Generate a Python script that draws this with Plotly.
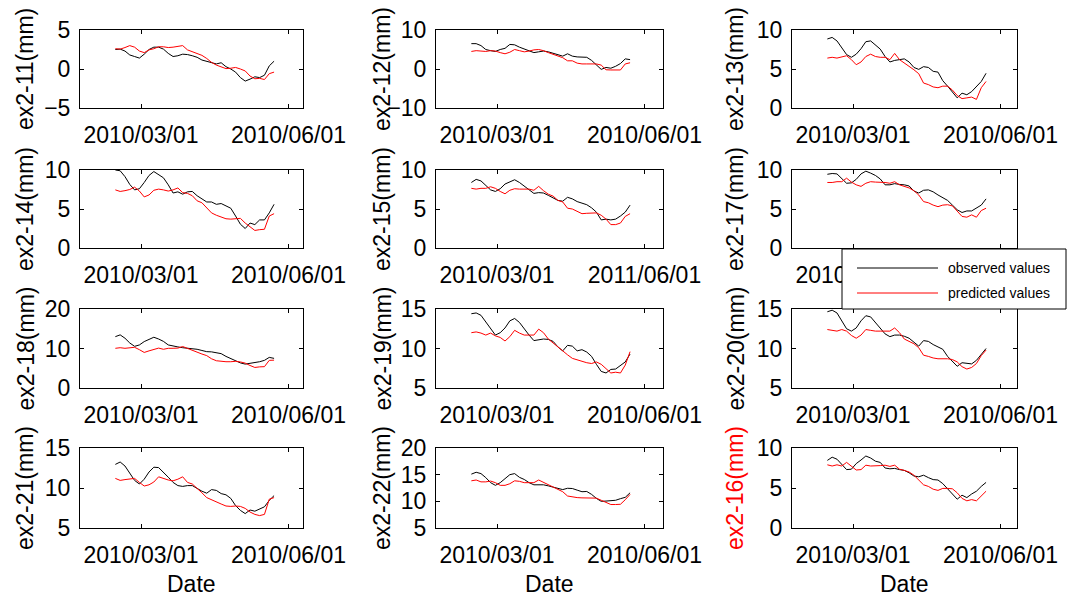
import pandas as pd
import plotly.graph_objects as go

# ---------------- data ----------------
dates = pd.date_range("2010-02-13", periods=34, freq="3D")

obs_11 = [2.5, 2.55, 2.3, 1.8, 1.6, 1.4, 1.9, 2.5, 2.8, 2.8, 2.55, 2.0, 1.6, 1.7, 1.9, 1.85, 1.7,
          1.5, 1.15, 0.95, 0.8, 0.65, 0.8, 0.3, 0.0, -0.4, -1.1, -1.55, -1.3, -1.0, -1.1, -0.8, 0.4, 1.0]
pred_11 = [2.6, 2.55, 2.75, 3.0, 2.8, 2.3, 2.1, 2.45, 2.6, 2.85, 2.85, 2.75, 2.8, 2.9, 3.0, 2.45, 2.2,
           2.0, 1.75, 1.35, 0.85, 0.5, 0.25, 0.05, 0.1, 0.2, 0.0, -0.25, -0.9, -1.25, -1.2, -1.35, -0.6, -0.4]

obs_12 = [6.5, 6.5, 6.0, 5.0, 4.7, 4.5, 5.0, 5.3, 6.3, 6.2, 5.6, 5.2, 4.7, 4.2, 4.4, 4.6, 4.4,
          4.0, 3.7, 3.3, 3.9, 3.3, 3.1, 3.0, 3.0, 2.2, 1.0, -0.1, 0.4, 0.2, 0.7, 1.4, 2.6, 2.4]
pred_12 = [4.5, 4.7, 4.6, 4.5, 4.7, 4.6, 4.2, 3.9, 4.3, 5.0, 4.7, 4.4, 4.6, 4.9, 5.0, 4.7, 4.2,
           3.8, 3.4, 2.9, 2.1, 2.1, 1.5, 1.3, 1.3, 1.3, 1.3, 1.0, -0.2, -0.25, -0.25, -0.25, 1.3, 1.6]

obs_13 = [8.85, 9.05, 8.6, 7.7, 6.85, 6.5, 6.9, 7.6, 8.5, 8.6, 8.1, 7.55, 6.6, 5.9, 6.1, 6.2, 6.3,
          5.9, 5.2, 4.95, 5.3, 5.2, 4.7, 4.6, 3.5, 2.8, 2.1, 1.3, 1.9, 1.7, 2.1, 2.7, 3.4, 4.45]
pred_13 = [6.4, 6.5, 6.4, 6.6, 6.7, 6.2, 5.55, 5.9, 6.6, 6.9, 6.6, 6.5, 6.5, 6.2, 7.0, 6.2, 5.8,
           5.3, 4.9, 4.4, 3.2, 3.0, 2.7, 2.6, 2.8, 2.8, 2.3, 1.6, 1.2, 1.3, 1.4, 1.1, 2.6, 3.4]

obs_14 = [10.0, 9.9, 9.15, 8.15, 7.45, 7.6, 8.4, 9.3, 9.8, 9.4, 9.0, 8.1, 7.05, 7.2, 6.9, 7.2, 7.25,
          6.7, 6.3, 5.9, 5.9, 5.6, 5.7, 5.35, 5.1, 4.1, 3.05, 2.5, 3.2, 3.0, 3.6, 3.6, 4.5, 5.6]
pred_14 = [7.45, 7.25, 7.35, 7.5, 7.8, 7.3, 6.55, 6.8, 7.4, 7.55, 7.45, 7.3, 7.45, 7.7, 7.1, 7.0, 6.7,
           6.05, 5.8, 5.2, 4.5, 4.2, 4.0, 3.75, 3.7, 3.75, 3.8, 3.2, 2.7, 2.25, 2.35, 2.4, 4.1, 4.4]

obs_15 = [8.4, 8.8, 8.6, 8.05, 7.45, 7.25, 7.6, 8.2, 8.5, 8.75, 8.4, 7.9, 7.4, 7.0, 7.1, 7.05, 6.75,
          6.45, 6.1, 6.0, 6.5, 6.3, 5.95, 5.75, 5.55, 5.15, 4.6, 3.6, 3.7, 3.6, 3.7, 4.1, 4.6, 5.5]
pred_15 = [7.65, 7.55, 7.65, 7.65, 7.85, 7.65, 7.25, 6.95, 7.4, 7.6, 7.55, 7.55, 7.55, 7.4, 7.9, 7.35, 6.9,
           6.65, 6.1, 5.9, 5.1, 5.0, 4.75, 4.4, 4.45, 4.5, 4.5, 4.2, 3.7, 3.0, 3.0, 3.2, 4.05, 4.4]

obs_17 = [9.45, 9.55, 9.5, 8.85, 8.3, 8.35, 8.8, 9.5, 9.85, 9.6, 9.3, 8.85, 8.1, 8.1, 8.25, 8.15, 8.1,
          7.95, 7.3, 7.05, 7.4, 7.45, 7.2, 6.8, 6.45, 6.1, 5.5, 4.9, 4.55, 4.75, 4.75, 5.1, 5.5, 6.3]
pred_17 = [8.4, 8.4, 8.5, 8.5, 8.95, 8.45, 8.1, 7.9, 8.3, 8.5, 8.45, 8.45, 8.4, 8.3, 8.5, 8.1, 7.9,
           7.7, 7.35, 6.8, 5.95, 5.8, 5.5, 5.3, 5.5, 5.55, 5.4, 4.7, 4.05, 3.95, 4.25, 3.95, 4.8, 5.1]

obs_18 = [13.0, 13.45, 12.6, 11.4, 10.55, 10.9, 11.75, 12.3, 12.85, 12.4, 11.8, 10.9, 10.6, 10.4, 10.2, 10.05, 10.0,
          9.8, 9.5, 9.2, 9.15, 8.95, 8.7, 8.0, 7.45, 6.85, 6.35, 6.05, 6.2, 6.4, 6.65, 7.0, 7.75, 7.5]
pred_18 = [10.05, 10.2, 10.05, 10.2, 10.3, 9.7, 9.0, 9.4, 9.8, 10.1, 9.8, 10.05, 10.05, 10.1, 10.5, 10.0, 9.4,
           8.9, 8.6, 8.2, 7.4, 6.9, 6.7, 6.65, 6.65, 6.75, 6.6, 6.3, 5.7, 5.2, 5.35, 5.4, 7.0, 7.05]

obs_19 = [14.4, 14.5, 14.2, 13.35, 12.55, 11.7, 12.0, 12.6, 13.5, 13.8, 13.3, 12.45, 11.7, 11.0, 11.1, 11.2, 11.15,
          10.9, 10.2, 9.7, 10.4, 10.3, 9.7, 9.85, 9.55, 9.0, 8.0, 7.1, 6.9, 7.35, 7.4, 7.9, 8.3, 9.3]
pred_19 = [12.0, 12.1, 11.95, 11.7, 11.95, 11.6, 11.4, 10.95, 11.5, 12.3, 11.95, 11.7, 11.7, 11.7, 12.45, 12.0, 11.2,
           10.7, 10.2, 9.6, 9.2, 8.75, 8.55, 8.35, 8.2, 8.1, 8.3, 8.0, 7.5, 6.9, 7.0, 6.9, 7.9, 9.6]

obs_20 = [14.65, 14.85, 14.5, 13.45, 12.5, 12.2, 12.6, 13.5, 14.15, 14.0, 13.3, 12.5, 11.85, 11.5, 11.7, 11.7, 11.55,
          11.3, 10.8, 10.3, 11.0, 10.9, 10.5, 10.2, 9.9, 9.0, 8.4, 7.75, 8.2, 8.15, 8.05, 8.5, 9.3, 10.0]
pred_20 = [12.4, 12.3, 12.2, 12.4, 12.2, 11.65, 11.3, 11.7, 12.4, 12.3, 12.2, 12.2, 12.2, 12.2, 12.6, 12.0, 11.2,
           10.95, 10.6, 10.1, 9.15, 9.0, 8.8, 8.7, 8.7, 8.7, 8.6, 8.3, 7.7, 7.4, 7.6, 8.1, 9.1, 9.8]

obs_21 = [12.95, 13.25, 12.75, 11.8, 10.95, 10.5, 11.1, 12.0, 12.6, 12.55, 12.0, 11.35, 10.7, 10.3, 10.2, 10.3, 10.3,
          9.9, 9.6, 9.35, 9.8, 9.7, 9.3, 9.15, 8.7, 7.8, 7.2, 6.8, 7.25, 7.1, 7.4, 7.65, 8.45, 9.05]
pred_21 = [11.2, 10.95, 11.05, 11.1, 11.2, 10.7, 10.25, 10.4, 10.75, 11.4, 11.2, 11.0, 10.9, 11.1, 11.4, 10.7, 10.5,
           10.0, 9.4, 8.8, 8.5, 8.2, 8.0, 7.75, 7.7, 7.75, 7.7, 7.45, 7.0, 6.7, 6.55, 6.7, 8.6, 8.8]

obs_22 = [15.1, 15.45, 15.2, 14.45, 13.5, 13.0, 13.5, 14.3, 15.0, 15.2, 14.5, 14.1, 13.5, 13.1, 13.15, 13.1, 12.9,
          12.7, 12.4, 12.2, 12.45, 12.4, 12.1, 11.8, 11.85, 11.3, 10.55, 10.0, 10.05, 10.1, 10.2, 10.5, 10.75, 11.6]
pred_22 = [13.85, 14.0, 13.65, 13.65, 13.8, 13.5, 13.0, 13.0, 13.3, 13.85, 13.75, 13.5, 13.5, 13.5, 14.0, 13.55, 13.2,
           12.6, 12.2, 11.8, 11.0, 10.8, 10.7, 10.65, 10.65, 10.65, 10.6, 10.2, 9.75, 9.4, 9.4, 9.45, 10.3, 11.3]

obs_16 = [8.45, 8.85, 8.6, 7.95, 7.3, 7.35, 8.05, 8.5, 9.0, 8.75, 8.35, 8.2, 7.5, 7.4, 7.45, 7.3, 7.2,
          6.9, 6.5, 6.4, 6.6, 6.3, 6.05, 6.0, 5.55, 4.9, 4.25, 3.6, 4.1, 3.8, 4.25, 4.6, 5.2, 5.7]
pred_16 = [7.9, 7.75, 7.9, 7.75, 8.2, 7.75, 7.25, 7.3, 7.85, 7.75, 7.75, 7.8, 7.85, 7.7, 7.85, 7.35, 7.2,
           7.0, 6.6, 6.0, 5.4, 5.2, 4.85, 4.7, 4.95, 4.95, 4.9, 4.4, 3.7, 3.4, 3.55, 3.4, 4.0, 4.6]

labels = ["ex2-11(mm)", "ex2-12(mm)", "ex2-13(mm)",
          "ex2-14(mm)", "ex2-15(mm)", "ex2-17(mm)",
          "ex2-18(mm)", "ex2-19(mm)", "ex2-20(mm)",
          "ex2-21(mm)", "ex2-22(mm)", "ex2-16(mm)"]
observed = [obs_11, obs_12, obs_13, obs_14, obs_15, obs_17, obs_18, obs_19, obs_20, obs_21, obs_22, obs_16]
predicted = [pred_11, pred_12, pred_13, pred_14, pred_15, pred_17, pred_18, pred_19, pred_20, pred_21, pred_22, pred_16]
y_ticks = [[-5, 0, 5], [-10, 0, 10], [0, 5, 10],
           [0, 5, 10], [0, 5, 10], [0, 5, 10],
           [0, 10, 20], [5, 10, 15], [5, 10, 15],
           [5, 10, 15], [5, 10, 15, 20], [0, 5, 10]]
x_tickvals = ["2010-03-01", "2010-06-01"]
x_ticktext = [["2010/03/01", "2010/06/01"]] * 12
x_ticktext[4] = ["2010/03/01", "2011/06/01"]
legend_names = ["observed values", "predicted values"]

# ---------------- layout geometry (pixels) ----------------
W, H = 1068, 599
cols = [(80, 303), (436, 663), (792, 1017)]
rows = [(30, 108), (170, 248), (309, 388), (448, 528)]
ylabel_x = [25, 382, 735]
FONT = "Liberation Sans, Arial, sans-serif"
ppd = 147.5 / 92.0          # pixels per day
mar1 = pd.Timestamp("2010-03-01")

fig = go.Figure()
layout = dict(
    width=W, height=H, margin=dict(l=0, r=0, t=0, b=0, pad=0),
    paper_bgcolor="white", plot_bgcolor="white", showlegend=False,
    font=dict(family=FONT, size=23, color="black"),
)
annotations = []
shapes = []

for i in range(12):
    r, c = divmod(i, 3)
    x0, x1 = cols[c]
    y0, y1 = rows[r]
    xa = "x" if i == 0 else f"x{i+1}"
    ya = "y" if i == 0 else f"y{i+1}"
    fig.add_trace(go.Scatter(x=dates, y=observed[i], mode="lines", name=legend_names[0],
                             line=dict(color="black", width=1), xaxis=xa, yaxis=ya))
    fig.add_trace(go.Scatter(x=dates, y=predicted[i], mode="lines", name=legend_names[1],
                             line=dict(color="red", width=1), xaxis=xa, yaxis=ya))
    w = x1 - x0
    start = mar1 - pd.Timedelta(days=61 / ppd)
    end = mar1 + pd.Timedelta(days=(w - 61) / ppd)
    common = dict(showline=True, linecolor="black", linewidth=1, mirror="ticks",
                  ticks="inside", ticklen=4, tickcolor="black", tickwidth=1,
                  showgrid=False, zeroline=False, automargin=False,
                  tickfont=dict(family=FONT, size=23, color="black"))
    layout["xaxis" if i == 0 else f"xaxis{i+1}"] = dict(
        domain=[x0 / W, x1 / W], anchor=ya, type="date",
        range=[start, end], tickmode="array", tickvals=x_tickvals, ticktext=x_ticktext[i],
        ticklabelstandoff=6, **common)
    yt = y_ticks[i]
    layout["yaxis" if i == 0 else f"yaxis{i+1}"] = dict(
        domain=[1 - y1 / H, 1 - y0 / H], anchor=xa,
        range=[yt[0], yt[-1]], tickmode="array", tickvals=yt,
        ticklabelstandoff=4, **common)
    annotations.append(dict(
        text=labels[i], x=ylabel_x[c] / W, y=1 - (y0 + y1) / 2 / H,
        xref="paper", yref="paper", xanchor="center", yanchor="middle",
        textangle=-90, showarrow=False,
        font=dict(family=FONT, size=23, color="red" if labels[i] == "ex2-16(mm)" else "black")))
    if r == 3:
        annotations.append(dict(
            text="Date", x=(x0 + x1) / 2 / W, y=1 - 584 / H,
            xref="paper", yref="paper", xanchor="center", yanchor="middle",
            showarrow=False, font=dict(family=FONT, size=23, color="black")))

# legend drawn as a MATLAB-style box
lx0, lx1, ly0, ly1 = 842, 1066, 249, 309
shapes.append(dict(type="rect", xref="paper", yref="paper",
                   x0=lx0 / W, x1=lx1 / W, y0=1 - ly1 / H, y1=1 - ly0 / H,
                   fillcolor="white", line=dict(color="black", width=1), layer="above"))
for k, (col, yy) in enumerate([("black", 268), ("red", 293)]):
    shapes.append(dict(type="line", xref="paper", yref="paper",
                       x0=857 / W, x1=938 / W, y0=1 - yy / H, y1=1 - yy / H,
                       line=dict(color=col, width=1), layer="above"))
    annotations.append(dict(text=legend_names[k], x=946 / W, y=1 - yy / H,
                            xref="paper", yref="paper", xanchor="left", yanchor="middle",
                            showarrow=False, font=dict(family=FONT, size=14, color="black")))

layout["annotations"] = annotations
layout["shapes"] = shapes
fig.update_layout(**layout)
fig.write_html("out.html", config={"displayModeBar": False},
               post_script="document.body.style.margin='0';document.body.style.overflow='hidden';")
